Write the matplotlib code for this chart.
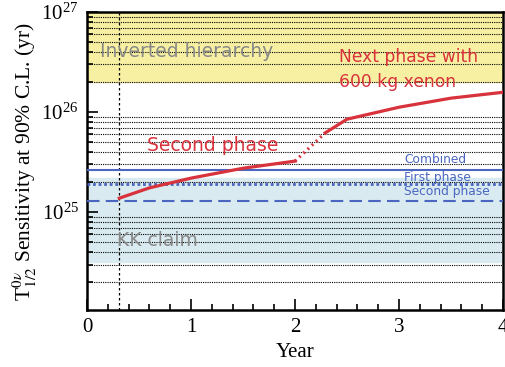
import matplotlib
matplotlib.use("Agg")
import matplotlib.pyplot as plt
from matplotlib.ticker import LogLocator, MultipleLocator, NullFormatter, LogFormatterMathtext

# sensitivity curves (year, half-life in yr)
second_years = [0.31, 0.6, 1.0, 1.5, 2.0]
second_vals = [1.38e25, 1.75e25, 2.19e25, 2.75e25, 3.24e25]
gap_years = [2.0, 2.29]
gap_vals = [3.24e25, 6.2e25]
next_years = [2.29, 2.5, 3.0, 3.5, 4.0]
next_vals = [6.2e25, 8.5e25, 1.12e26, 1.38e26, 1.58e26]

# reference limits
combined = 2.63e25
first_phase = 1.93e25
second_limit = 1.3e25
kk_band = (3.16e24, 2.19e25)
ih_band = (2e26, 1e27)
start_year = 0.31

red = "#d8323c"
blue = "#4a66c0"

plt.rcParams["mathtext.fontset"] = "stix"

fig = plt.figure(figsize=(5.06, 3.67), dpi=100)
ax = fig.add_axes([0.172, 0.155, 0.822, 0.812])

ax.set_yscale("log")
ax.set_xlim(0, 4)
ax.set_ylim(1.05e24, 1e27)

ax.axhspan(*ih_band, color="#f7f0a2", zorder=0)
ax.axhspan(*kk_band, color="#d9ebf1", zorder=0)

ax.yaxis.set_minor_locator(LogLocator(base=10, subs=range(2, 10)))
ax.yaxis.set_minor_formatter(NullFormatter())
ax.yaxis.set_major_formatter(LogFormatterMathtext())
ax.grid(True, which="minor", axis="y", color="black", linestyle=(0, (1, 1)), linewidth=0.8, zorder=1)

ax.axvline(start_year, color="black", linestyle=(0, (2, 2)), linewidth=0.9, zorder=2)

ax.axhline(combined, color=blue, linewidth=1.5, zorder=3)
ax.axhline(first_phase, color=blue, linestyle=(0, (1, 1)), linewidth=2, zorder=3)
ax.axhline(second_limit, color=blue, linestyle=(0, (6, 3)), linewidth=1.5, zorder=3)

ax.plot(second_years, second_vals, color=red, linewidth=2.3, zorder=4)
ax.plot(gap_years, gap_vals, color=red, linewidth=2.3, linestyle=(0, (0.6, 1.2)), zorder=4)
ax.plot(next_years, next_vals, color=red, linewidth=2.3, zorder=4)

sans = "DejaVu Sans"
ax.text(0.12, 4.0e26, "Inverted hierarchy", color="#888888", fontsize=13.5, family=sans, va="center")
ax.text(2.42, 3.55e26, "Next phase with", color=red, fontsize=12.3, family=sans, va="center")
ax.text(2.42, 2.0e26, "600 kg xenon", color=red, fontsize=12.3, family=sans, va="center")
ax.text(0.58, 4.6e25, "Second phase", color=red, fontsize=13.5, family=sans, va="center")
ax.text(0.29, 5.2e24, "KK claim", color="#888888", fontsize=13.5, family=sans, va="center")
ax.text(3.05, 3.4e25, "Combined", color=blue, fontsize=8.8, family=sans, va="center")
ax.text(3.05, 2.24e25, "First phase", color=blue, fontsize=8.8, family=sans, va="center")
ax.text(3.05, 1.62e25, "Second phase", color=blue, fontsize=8.8, family=sans, va="center")

ax.xaxis.set_major_locator(MultipleLocator(1))
ax.xaxis.set_minor_locator(MultipleLocator(0.2))
ax.tick_params(which="both", direction="in", top=False, right=False, width=1.2)
ax.tick_params(which="major", length=8, labelsize=15, pad=6)
ax.tick_params(which="minor", length=4)
for lab in ax.get_xticklabels() + ax.get_yticklabels():
    lab.set_family("Liberation Serif")
for s in ax.spines.values():
    s.set_linewidth(1.8)

ax.set_xlabel("Year", fontsize=15, family="Liberation Serif", labelpad=4)
ax.set_ylabel(r"T$^{0\nu}_{1/2}$ Sensitivity at 90% C.L. (yr)", fontsize=15.5,
              family="Liberation Serif", labelpad=2)

fig.savefig("out.png", dpi=100)
